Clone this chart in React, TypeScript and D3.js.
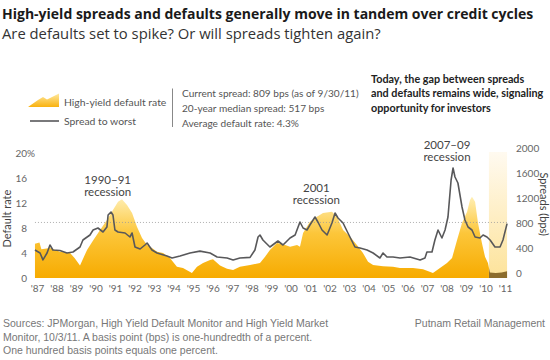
import * as d3 from "d3";

const WIDTH = 550;
const HEIGHT = 360;

const SANS = "Lato, 'Noto Sans', sans-serif";
const WIDE = "'Open Sans', 'Noto Sans', sans-serif";
const ARIAL = "'Liberation Sans', Arial, sans-serif";

// tick labels
const YEAR_TICKS = [1987, 1988, 1989, 1990, 1991, 1992, 1993, 1994, 1995, 1996, 1997, 1998, 1999,
  2000, 2001, 2002, 2003, 2004, 2005, 2006, 2007, 2008, 2009, 2010, 2011];
const RATE_TICKS = [0, 4, 8, 12, 16, 20];
const BPS_TICKS = [0, 400, 800, 1200, 1600, 2000];

// high-yield default rate (%)
const RATE_T = [1986.87, 1987.1, 1987.2, 1987.64, 1988.15, 1988.67, 1988.9, 1989.18, 1989.54, 1989.85,
  1990.21, 1990.56, 1990.87, 1991.13, 1991.33, 1991.59, 1991.85, 1992.1, 1992.36, 1992.62,
  1992.87, 1993.13, 1993.44, 1993.79, 1994.15, 1994.46, 1994.92, 1995.18, 1995.49, 1995.85,
  1996.0, 1996.36, 1996.72, 1997.03, 1997.38, 1997.9, 1998.41, 1998.67, 1998.92, 1999.28,
  1999.59, 1999.95, 2000.31, 2000.46, 2000.62, 2000.97, 2001.33, 2001.64, 2002.1, 2002.36,
  2002.67, 2003.03, 2003.38, 2003.69, 2003.95, 2004.21, 2004.72, 2005.23, 2005.59, 2006.26,
  2006.77, 2007.28, 2007.64, 2008.0, 2008.26, 2008.51, 2008.77, 2009.03, 2009.18, 2009.28,
  2009.44, 2009.59, 2009.79, 2009.95, 2010.1, 2010.2, 2010.5, 2010.8, 2011.08];
const RATE = [5.5, 5.7, 4.6, 4.8, 4.2, 4.0, 3.2, 2.0, 4.5, 6.0,
  7.7, 9.3, 10.9, 12.2, 12.6, 11.7, 10.4, 8.2, 6.4, 5.3,
  4.8, 4.2, 4.0, 3.2, 1.8, 1.6, 0.8, 1.8, 2.4, 2.9,
  3.0, 2.0, 1.5, 1.3, 1.8, 2.1, 2.4, 3.4, 4.5, 5.6,
  5.4, 5.0, 5.3, 5.0, 7.2, 9.0, 9.8, 10.4, 10.6, 9.8,
  7.7, 6.6, 5.3, 4.0, 2.6, 2.1, 1.9, 1.8, 1.6, 1.6,
  1.4, 0.8, 1.6, 2.4, 3.2, 6.0, 8.8, 10.6, 12.5, 13.0,
  12.2, 8.8, 5.6, 3.4, 2.4, 0.9, 0.8, 0.9, 1.1];

// spread to worst (bps)
const SPREAD_T = [1986.87, 1987.13, 1987.28, 1987.49, 1987.64, 1987.79, 1988.15, 1988.51, 1988.82, 1989.18,
  1989.33, 1989.69, 1989.85, 1990.1, 1990.36, 1990.56, 1990.62, 1990.77, 1990.87, 1990.97,
  1991.13, 1991.49, 1991.74, 1991.85, 1992.0, 1992.26, 1992.51, 1992.62, 1992.87, 1993.13,
  1993.64, 1993.9, 1994.31, 1994.82, 1995.33, 1995.85, 1996.21, 1996.72, 1997.03, 1997.38,
  1997.9, 1998.15, 1998.31, 1998.41, 1998.56, 1998.92, 1999.33, 1999.59, 1999.95, 2000.21,
  2000.46, 2000.62, 2000.82, 2000.97, 2001.23, 2001.38, 2001.59, 2001.85, 2002.1, 2002.26,
  2002.41, 2002.67, 2002.92, 2003.28, 2003.54, 2003.9, 2004.21, 2004.56, 2004.72, 2004.92,
  2005.23, 2005.59, 2006.1, 2006.62, 2006.87, 2006.97, 2007.23, 2007.38, 2007.54, 2007.74,
  2007.9, 2008.05, 2008.21, 2008.31, 2008.41, 2008.56, 2008.77, 2008.92, 2009.08, 2009.28,
  2009.44, 2009.69, 2009.85, 2010.05, 2010.21, 2010.46, 2010.72, 2010.87, 2011.08];
const SPREAD = [368, 320, 210, 320, 448, 368, 360, 320, 336, 416,
  528, 608, 688, 720, 656, 736, 928, 976, 928, 688,
  656, 640, 576, 640, 416, 384, 448, 480, 368, 320,
  272, 240, 272, 320, 350, 320, 256, 240, 208, 240,
  250, 368, 576, 608, 528, 416, 512, 448, 560, 608,
  816, 720, 688, 768, 896, 816, 688, 608, 800, 960,
  880, 800, 640, 416, 400, 368, 320, 240, 320, 256,
  256, 240, 256, 208, 240, 336, 336, 528, 688, 560,
  688, 896, 1488, 1680, 1536, 1440, 1056, 848, 736, 688,
  576, 560, 608, 576, 528, 416, 416, 528, 790];

const CURRENT_SPREAD = 809;
const HIGHLIGHT = [2010.15, 2011.08];

export default function App() {
  const x = d3.scaleLinear().domain([1987, 2011]).range([37.5, 505.5]);
  const yRate = d3.scaleLinear().domain([0, 20]).range([278, 153]);
  const yBps = d3.scaleLinear().domain([0, 2000]).range([273, 148]);

  const ratePts = RATE_T.map((t, i) => ({ t, v: RATE[i] }));
  const spreadPts = SPREAD_T.map((t, i) => ({ t, v: SPREAD[i] }));

  const area = d3
    .area<{ t: number; v: number }>()
    .x((d) => x(d.t))
    .y0(yRate(0))
    .y1((d) => yRate(d.v));
  const line = d3
    .line<{ t: number; v: number }>()
    .x((d) => x(d.t))
    .y((d) => yBps(d.v));

  const hx0 = x(HIGHLIGHT[0]);
  const hx1 = x(HIGHLIGHT[1]);

  return (
    <svg
      width={WIDTH}
      height={HEIGHT}
      style={{ position: "absolute", left: 0, top: 0, display: "block", background: "#fff" }}
    >
      <defs>
        <linearGradient id="rateFill" gradientUnits="userSpaceOnUse" x1={0} y1={yRate(0)} x2={0} y2={yRate(13)}>
          <stop offset="0" stopColor="#f7ab00" />
          <stop offset="0.55" stopColor="#fcc63a" />
          <stop offset="1" stopColor="#ffefb4" />
        </linearGradient>
        <linearGradient id="legendFill" x1={0} y1={1} x2={0} y2={0}>
          <stop offset="0" stopColor="#f9b20f" />
          <stop offset="1" stopColor="#ffe9a0" />
        </linearGradient>
        <linearGradient id="hiFill" x1={0} y1={0} x2={0} y2={1}>
          <stop offset="0" stopColor="#fffaf0" />
          <stop offset="1" stopColor="#fde39a" />
        </linearGradient>
        <clipPath id="clipMain">
          <rect x={0} y={0} width={hx0} height={HEIGHT} />
        </clipPath>
        <clipPath id="clipHi">
          <rect x={hx0} y={0} width={WIDTH - hx0} height={HEIGHT} />
        </clipPath>
      </defs>

      {/* titles */}
      <text x={2} y={19} fontFamily={WIDE} fontWeight={700} fontSize={14} fill="#1a1a1a">
        High-yield spreads and defaults generally move in tandem over credit cycles
      </text>
      <text x={2} y={38.5} fontFamily={WIDE} fontSize={14.8} fill="#333">
        Are defaults set to spike? Or will spreads tighten again?
      </text>

      {/* legend */}
      <path d="M28,107 L38,100 L43,97 L47,99.5 L59,93.5 L59,107 Z" fill="url(#legendFill)" />
      <text x={64} y={105.5} fontFamily={SANS} fontSize={10.4} fill="#555">High-yield default rate</text>
      <line x1={30} x2={59} y1={121} y2={121} stroke="#58585a" strokeWidth={1.6} />
      <text x={64} y={125} fontFamily={SANS} fontSize={10.4} fill="#555">Spread to worst</text>
      <line x1={172.5} x2={172.5} y1={88.5} y2={127} stroke="#888" strokeWidth={1} />
      <g fontFamily={SANS} fontSize={10.1} fill="#555">
        <text x={182} y={96.5}>Current spread: 809 bps (as of 9/30/11)</text>
        <text x={182} y={111.5}>20-year median spread: 517 bps</text>
        <text x={182} y={126.5}>Average default rate: 4.3%</text>
      </g>
      <g fontFamily={SANS} fontWeight={700} fontSize={10.8} fill="#222">
        <text x={371} y={82.5}>Today, the gap between spreads</text>
        <text x={371} y={97}>and defaults remains wide, signaling</text>
        <text x={371} y={111.5}>opportunity for investors</text>
      </g>

      {/* default rate area */}
      <path d={area(ratePts) ?? ""} fill="url(#rateFill)" clipPath="url(#clipMain)" />
      <rect x={hx0} y={yRate(20) - 1} width={hx1 - hx0} height={yRate(0) - yRate(20) + 1} fill="url(#hiFill)" />
      <path d={area(ratePts) ?? ""} fill="#8c6d2e" clipPath="url(#clipHi)" />

      {/* current spread reference */}
      <line
        x1={x(RATE_T[0])}
        x2={hx1}
        y1={yBps(CURRENT_SPREAD)}
        y2={yBps(CURRENT_SPREAD)}
        stroke="#999"
        strokeWidth={0.8}
        strokeDasharray="1,2"
      />

      {/* spread line */}
      <path d={line(spreadPts) ?? ""} fill="none" stroke="#58585a" strokeWidth={1.6} strokeLinejoin="round" />

      {/* recession notes */}
      <g fontFamily={SANS} fontSize={11.5} fill="#444" textAnchor="middle">
        <text x={x(1990.6)} y={184}>1990–91</text>
        <text x={x(1990.6)} y={196}>recession</text>
        <text x={x(2001.3)} y={192}>2001</text>
        <text x={x(2001.3)} y={204}>recession</text>
        <text x={x(2008.0)} y={149}>2007–09</text>
        <text x={x(2008.0)} y={161}>recession</text>
      </g>

      {/* left axis */}
      <g fontFamily={SANS} fontSize={10} fill="#666">
        {RATE_TICKS.map((v) => (
          <text key={v} x={27} y={yRate(v) + 4} textAnchor="end">
            {v}
          </text>
        ))}
        <text x={27} y={yRate(20) + 4}>%</text>
      </g>
      <text
        transform={`translate(10.5,${yRate(9.5)}) rotate(-90)`}
        textAnchor="middle"
        fontFamily={SANS}
        fontSize={11}
        fill="#444"
      >
        Default rate
      </text>

      {/* right axis */}
      <g fontFamily={SANS} fontSize={10} fill="#666">
        {BPS_TICKS.map((v) => (
          <text key={v} x={516} y={yBps(v) + 4}>
            {v}
          </text>
        ))}
      </g>
      <text
        transform={`translate(539.5,${yBps(1100)}) rotate(90)`}
        textAnchor="middle"
        fontFamily={SANS}
        fontSize={11}
        fill="#444"
      >
        Spreads (bps)
      </text>

      {/* x axis */}
      <g fontFamily={SANS} fontSize={10} fill="#666" textAnchor="middle">
        {YEAR_TICKS.map((yr) => (
          <text key={yr} x={x(yr)} y={292}>
            {`'${String(yr).slice(2)}`}
          </text>
        ))}
      </g>

      {/* sources */}
      <g fontFamily={ARIAL} fontSize={10.5} fill="#777">
        <text x={3} y={327}>Sources: JPMorgan, High Yield Default Monitor and High Yield Market</text>
        <text x={3} y={341}>Monitor, 10/3/11. A basis point (bps) is one-hundredth of a percent.</text>
        <text x={3} y={354}>One hundred basis points equals one percent.</text>
        <text x={545} y={327} textAnchor="end">Putnam Retail Management</text>
      </g>
    </svg>
  );
}
